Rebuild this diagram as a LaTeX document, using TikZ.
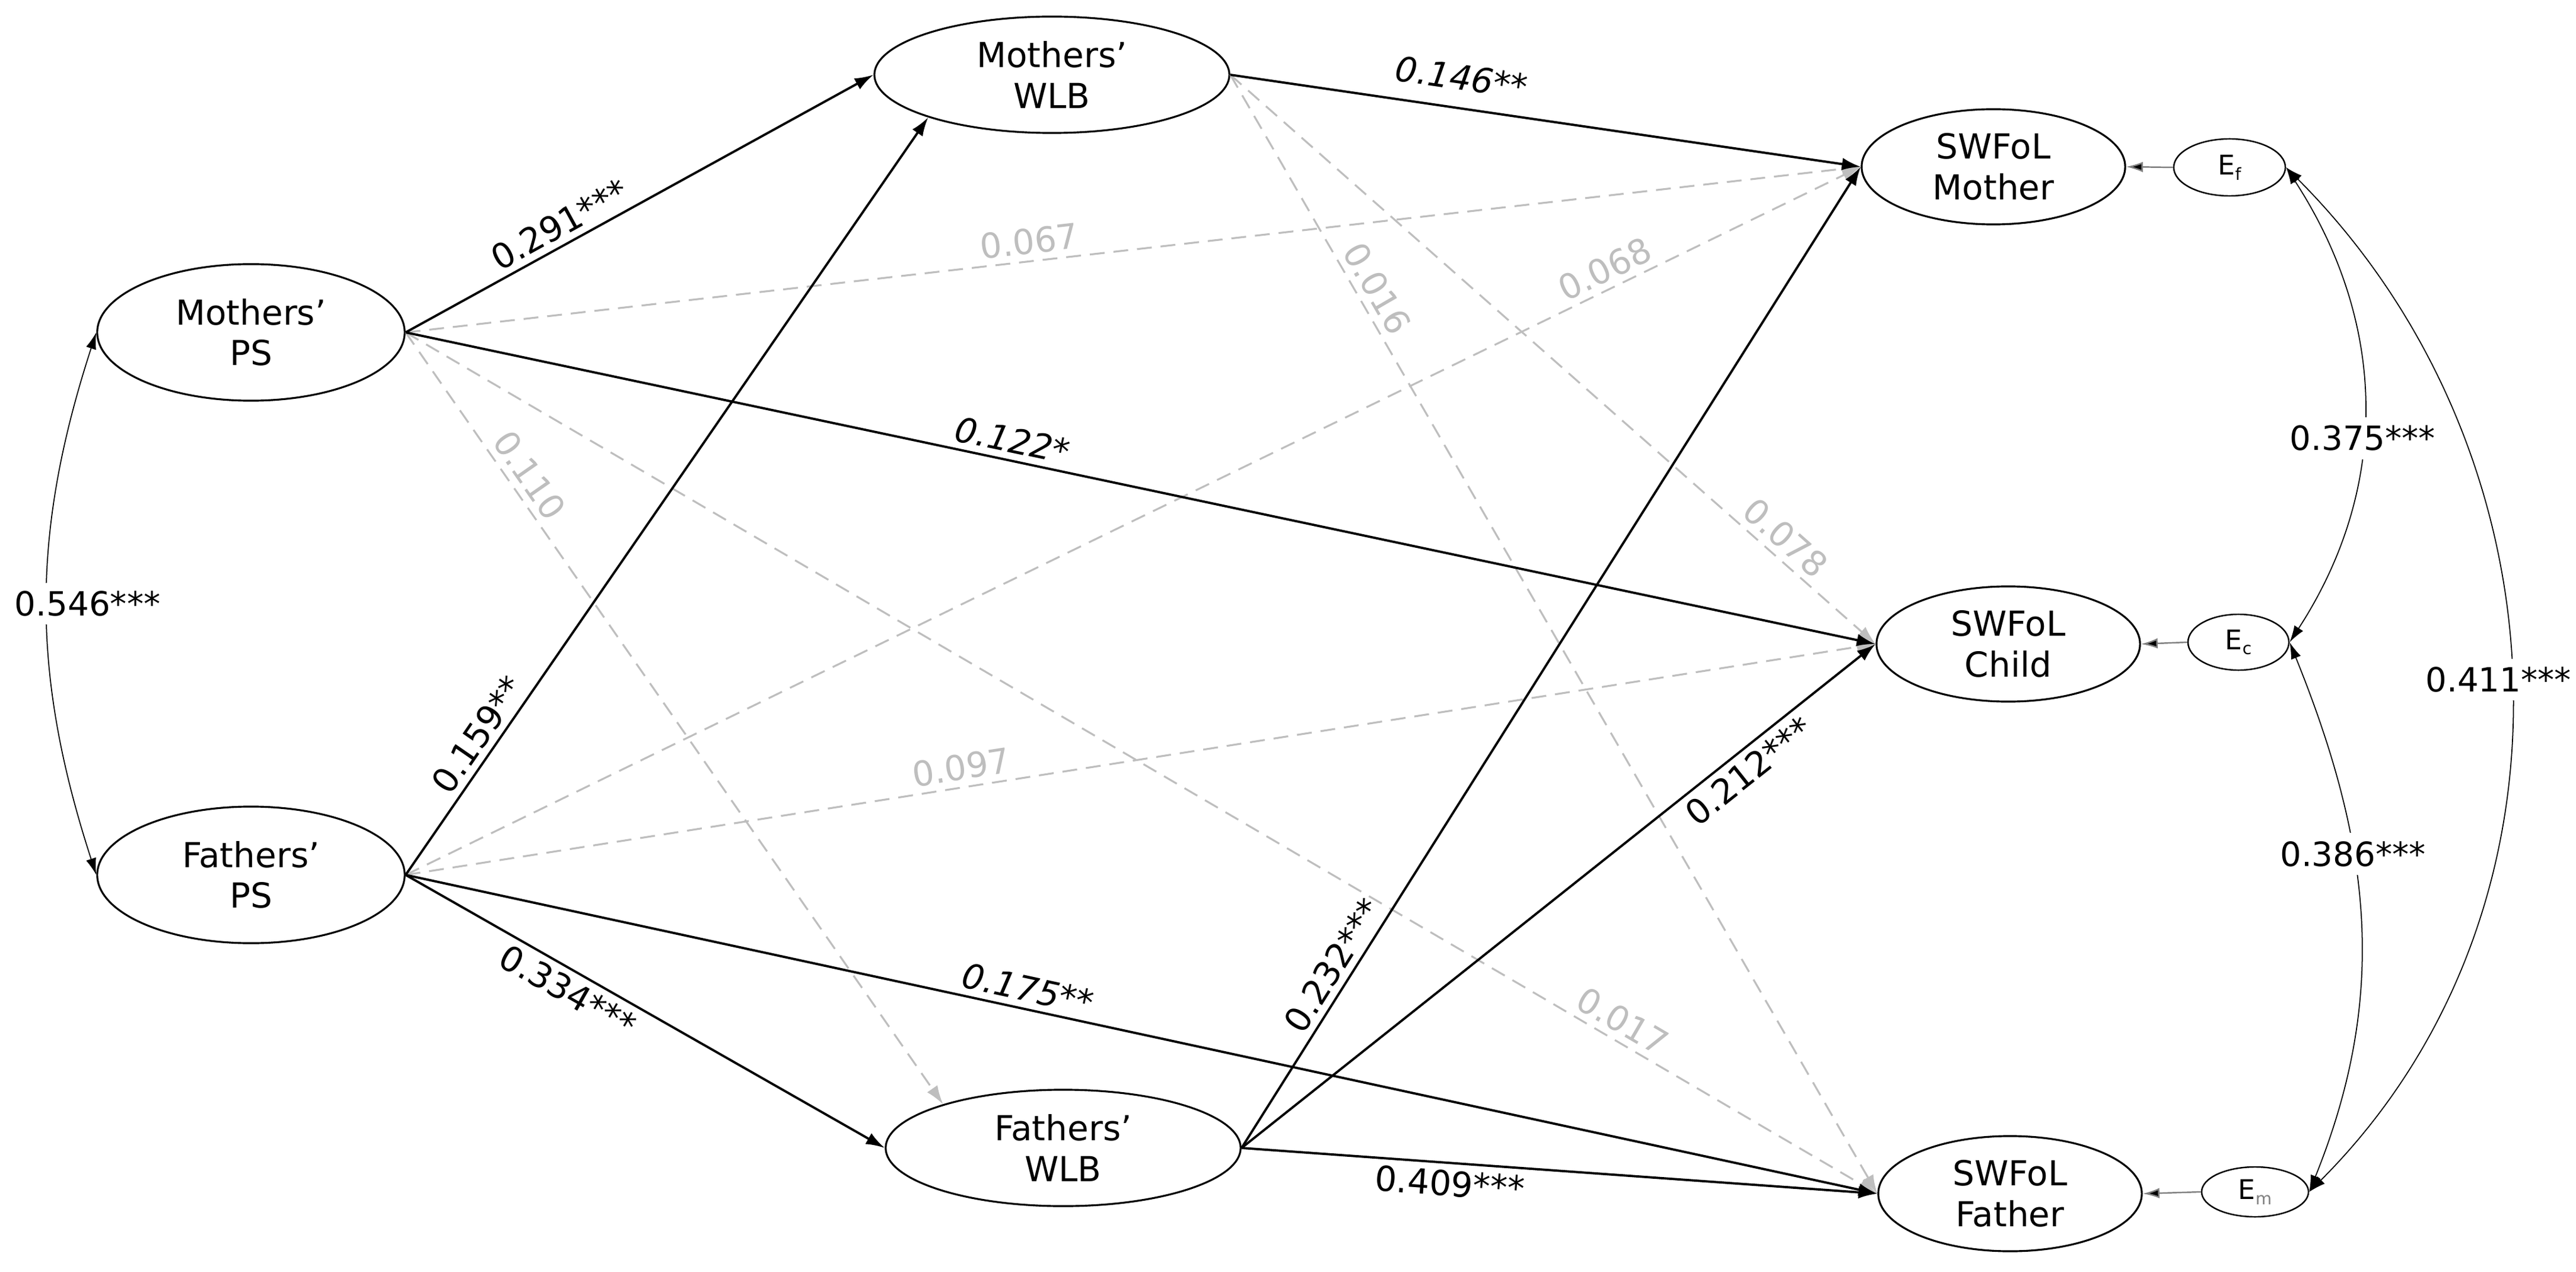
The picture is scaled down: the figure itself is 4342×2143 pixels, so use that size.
\documentclass[tikz,border=0pt]{standalone}
\usepackage{fontspec}
\setmainfont{DejaVu Sans}
\usetikzlibrary{arrows.meta,shapes.geometric}
\definecolor{lg}{RGB}{190,190,190}
\begin{document}
\begin{tikzpicture}[x=0.01cm,y=-0.01cm,
  every node/.style={font=\fontsize{16.5}{19.5}\selectfont},
  lv/.style={ellipse,draw,line width=0.9pt,inner sep=0pt,align=center},
  ps/.style={lv,minimum width=5.18cm,minimum height=2.3cm},
  wlb/.style={lv,minimum width=5.98cm,minimum height=1.96cm},
  sw/.style={lv,minimum width=4.44cm,minimum height=1.94cm},
  err/.style={ellipse,draw,line width=0.7pt,inner sep=0pt,font=\fontsize{13}{15}\selectfont},
  sig/.style={line width=1.1pt,-{Latex[length=9pt,width=6pt]}},
  ns/.style={line width=0.9pt,draw=lg,dash pattern=on 0.25cm off 0.15cm,-{Latex[length=9pt,width=6pt,fill=lg]}},
  lab/.style={sloped,inner sep=3pt},
  nl/.style={lab,text=lg},
  cov/.style={line width=0.5pt,{Latex[length=8pt,width=5pt]}-{Latex[length=8pt,width=5pt]}},
  covl/.style={fill=white,inner sep=4pt,font=\fontsize{16}{19}\selectfont},
  eps/.style={line width=0.7pt,draw=gray,-{Latex[length=8pt,width=5pt,fill=black]}}]
\useasboundingbox (0,0) rectangle (4342,2143);
\node[ps] (MPS) at (423,560) {Mothers’\\PS};
\node[ps] (FPS) at (423,1474) {Fathers’\\PS};
\node[wlb] (MW) at (1773,126) {Mothers’\\WLB};
\node[wlb] (FW) at (1792,1934) {Fathers’\\WLB};
\node[sw] (SM) at (3360,281) {SWFoL\\Mother};
\node[sw] (SC) at (3385,1085) {SWFoL\\Child};
\node[sw] (SF) at (3388,2011) {SWFoL\\Father};
\node[err,minimum width=1.88cm,minimum height=0.96cm] (EF) at (3758,282) {E\raisebox{-0.35ex}{\fontsize{8}{9}\selectfont f}};
\node[err,minimum width=1.7cm,minimum height=0.94cm] (EC) at (3773,1082) {E\raisebox{-0.35ex}{\fontsize{8}{9}\selectfont c}};
\node[err,minimum width=1.8cm,minimum height=0.84cm] (EM) at (3801,2008) {E\raisebox{-0.35ex}{\fontsize{8}{9}\selectfont\color{gray}m}};
% non-significant
\draw[ns] (MPS.east) -- node[nl,pos=.43,above]{0.067} (SM.west);
\draw[ns] (MPS.east) -- node[nl,pos=.2,above]{0.110} (FW.160);
\draw[ns] (MW.east) -- node[nl,pos=.2,above]{0.016} (SF.west);
\draw[ns] (FPS.east) -- node[nl,pos=.83,above]{0.068} (SM.west);
\draw[ns] (MW.east) -- node[nl,pos=.84,above]{0.078} (SC.west);
\draw[ns] (FPS.east) -- node[nl,pos=.38,above]{0.097} (SC.west);
\draw[ns] (MPS.east) -- node[nl,pos=.82,above]{0.017} (SF.west);
% significant
\draw[sig] (MPS.east) -- node[lab,pos=.35,above]{0.291***} (MW.west);
\draw[sig] (FPS.east) -- node[lab,pos=.17,above]{0.159**} (MW.-161);
\draw[sig] (MPS.east) -- node[lab,pos=.41,above]{\itshape 0.122*} (SC.west);
\draw[sig] (FPS.east) -- node[lab,pos=.42,above]{\itshape 0.175**} (SF.west);
\draw[sig] (FPS.east) -- node[lab,pos=.36,below]{0.334***} (FW.west);
\draw[sig] (MW.east) -- node[lab,pos=.36,above=5pt]{\itshape 0.146**} (SM.west);
\draw[sig] (FW.east) -- node[lab,pos=.175,above]{0.232***} (SM.west);
\draw[sig] (FW.east) -- node[lab,pos=.78,below]{0.212***} (SC.west);
\draw[sig] (FW.east) -- node[lab,pos=.33,below]{0.409***} (SF.west);
% errors
\draw[eps] (EF.west) -- (SM.east);
\draw[eps] (EC.west) -- (SC.east);
\draw[eps] (EM.west) -- (SF.east);
% covariances
\draw[cov] (MPS.west) to[out=-108,in=108] node[covl,xshift=0.68cm]{0.546***} (FPS.west);
\draw[cov] (EF.east) to[out=-57,in=57] node[covl,pos=.57]{0.375***} (EC.east);
\draw[cov] (EC.east) to[out=-68,in=68] node[covl,pos=.38]{0.386***} (EM.east);
\draw[cov] (EF.east) to[out=-45,in=45] node[covl,xshift=-0.2cm]{0.411***} (EM.east);
\end{tikzpicture}
\end{document}
